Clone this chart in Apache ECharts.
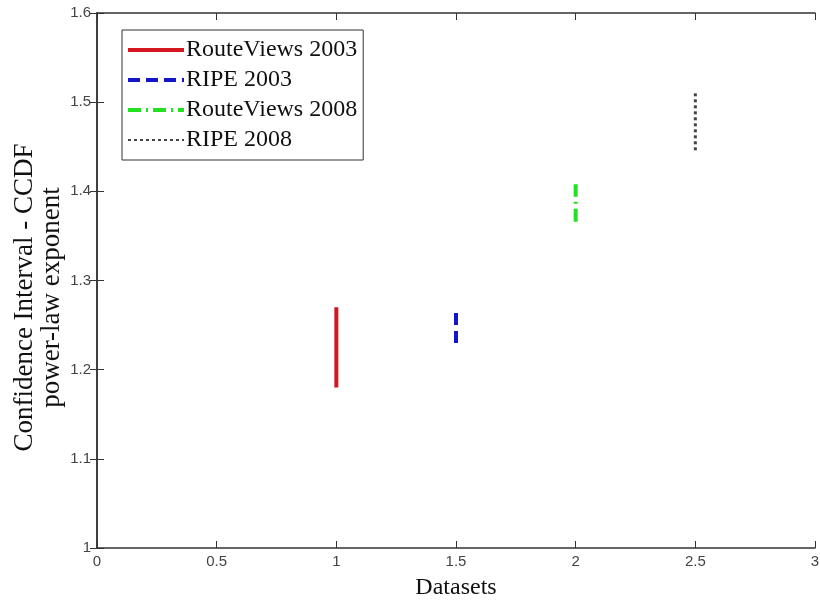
<!DOCTYPE html>
<html lang="en">
<head>
    <meta charset="UTF-8">
    <title>Confidence intervals</title>
    <style>
        body { margin: 0; background: #fff; }
        #chart { width: 820px; height: 600px; }
    </style>
</head>
<body>
<div id="chart"></div>
<script src="https://cdn.jsdelivr.net/npm/echarts@6/dist/echarts.min.js"></script>
<script>
    // datasets and their confidence interval ends
    let names = ['RouteViews 2003', 'RIPE 2003', 'RouteViews 2008', 'RIPE 2008'];
    let xPos = [1, 1.5, 2, 2.5];
    let lowValues = [1.18, 1.23, 1.366, 1.446];
    let highValues = [1.27, 1.264, 1.408, 1.51];
    let colors = ['#d4161e', '#1414c8', '#22e022', '#444444'];
    let dashes = ['solid', [12, 6], [13, 5, 2, 5], [3, 3]];
    let widths = [4, 4, 4, 3];

    let chart = echarts.init(document.getElementById('chart'));

    let series = names.map((n, i) => ({
        name: n,
        type: 'line',
        symbol: 'none',
        data: [[xPos[i], lowValues[i]], [xPos[i], highValues[i]]],
        lineStyle: { color: colors[i], width: widths[i], type: dashes[i] },
        itemStyle: { color: colors[i] }
    }));

    let legendData = names.map((n, i) => ({
        name: n,
        lineStyle: { width: i === 3 ? 2 : 4 }
    }));

    let tickFont = { fontFamily: 'Liberation Sans', fontSize: 15, color: '#444' };
    let serif = 'Liberation Serif';

    let option = {
        animation: false,
        grid: { left: 97, right: 5, top: 13, bottom: 52, outerBoundsMode: 'none', containLabel: false },
        legend: {
            orient: 'vertical',
            left: 122,
            top: 30,
            padding: [8, 6, 8, 4],
            itemGap: 6,
            itemWidth: 56,
            itemHeight: 14,
            borderColor: '#333',
            borderWidth: 1,
            itemStyle: { opacity: 0, borderWidth: 0 },
            textStyle: { fontFamily: serif, fontSize: 24, color: '#111', padding: [0, 0, 0, -3] },
            data: legendData
        },
        xAxis: [{
            type: 'value', min: 0, max: 3, interval: 0.5,
            name: 'Datasets', nameLocation: 'middle', nameGap: 28,
            nameTextStyle: { fontFamily: serif, fontSize: 24, color: '#111' },
            axisLine: { onZero: false, lineStyle: { color: '#333', width: 1.5 } },
            axisTick: { inside: true, length: 7, lineStyle: { color: '#333' } },
            axisLabel: Object.assign({ margin: 6 }, tickFont),
            splitLine: { show: false }
        }, {
            type: 'value', min: 0, max: 3, interval: 0.5, position: 'top',
            axisLine: { lineStyle: { color: '#333', width: 1.5 } },
            axisTick: { inside: true, length: 7, lineStyle: { color: '#333' } },
            axisLabel: { show: false },
            splitLine: { show: false }
        }],
        yAxis: [{
            type: 'value', min: 1, max: 1.6, interval: 0.1,
            name: 'Confidence Interval - CCDF\npower-law exponent',
            nameLocation: 'middle', nameGap: 32, nameMoveOverlap: false,
            nameTextStyle: { fontFamily: serif, fontSize: 27, color: '#111', lineHeight: 27, padding: [0, 34, 0, 0] },
            axisLine: { show: true, lineStyle: { color: '#333', width: 1.5 } },
            axisTick: { show: true, inside: true, length: 7, lineStyle: { color: '#333' } },
            axisLabel: Object.assign({ margin: 6 }, tickFont),
            splitLine: { show: false }
        }, {
            type: 'value', min: 1, max: 1.6, interval: 0.1, position: 'right',
            axisLine: { show: true, lineStyle: { color: '#333', width: 1.5 } },
            axisTick: { show: true, inside: true, length: 7, lineStyle: { color: '#333' } },
            axisLabel: { show: false },
            splitLine: { show: false }
        }],
        series: series
    };

    chart.setOption(option);
</script>
</body>
</html>
